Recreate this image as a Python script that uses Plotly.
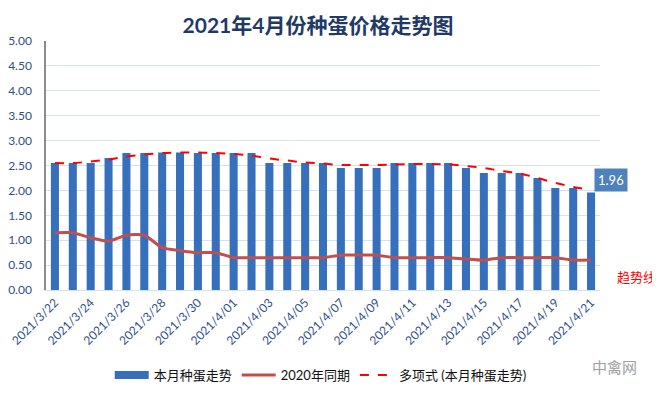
import plotly.graph_objects as go

dates = ["2021/3/22", "2021/3/23", "2021/3/24", "2021/3/25", "2021/3/26", "2021/3/27",
         "2021/3/28", "2021/3/29", "2021/3/30", "2021/3/31", "2021/4/01", "2021/4/02",
         "2021/4/03", "2021/4/04", "2021/4/05", "2021/4/06", "2021/4/07", "2021/4/08",
         "2021/4/09", "2021/4/10", "2021/4/11", "2021/4/12", "2021/4/13", "2021/4/14",
         "2021/4/15", "2021/4/16", "2021/4/17", "2021/4/18", "2021/4/19", "2021/4/20",
         "2021/4/21"]
tick_labels = dates[::2]

price_2021 = [2.55, 2.55, 2.55, 2.65, 2.75, 2.75, 2.76, 2.76, 2.75, 2.75, 2.75, 2.75,
              2.55, 2.55, 2.55, 2.55, 2.45, 2.45, 2.45, 2.55, 2.55, 2.55, 2.55, 2.45,
              2.35, 2.35, 2.35, 2.25, 2.05, 2.05, 1.96]
price_2020 = [1.15, 1.15, 1.05, 0.98, 1.10, 1.10, 0.85, 0.79, 0.75, 0.75, 0.65, 0.65,
              0.65, 0.65, 0.65, 0.65, 0.70, 0.70, 0.70, 0.65, 0.65, 0.65, 0.65, 0.62,
              0.60, 0.65, 0.65, 0.65, 0.65, 0.60, 0.60]
trend = [2.55, 2.55, 2.58, 2.62, 2.68, 2.72, 2.75, 2.76, 2.76, 2.75, 2.73, 2.70,
         2.64, 2.60, 2.56, 2.54, 2.51, 2.51, 2.51, 2.52, 2.53, 2.53, 2.52, 2.49,
         2.45, 2.39, 2.34, 2.25, 2.15, 2.07, 2.01]

font_family = "Lato, 'Noto Sans CJK SC', sans-serif"
tick_color = "#2F4F8A"
grid_color = "#D6E1EF"
bar_color = "#3670BD"

fig = go.Figure()
fig.add_trace(go.Bar(
    x=dates, y=price_2021, name="本月种蛋走势",
    marker=dict(color=bar_color, line=dict(width=0)),
    width=0.45, showlegend=False,
))
# legend-only entry giving the wide rectangular swatch for the bars
fig.add_trace(go.Scatter(
    x=[None], y=[None], name="本月种蛋走势", mode="lines",
    line=dict(color=bar_color, width=8),
))
fig.add_trace(go.Scatter(
    x=dates, y=price_2020, name="2020年同期", mode="lines",
    line=dict(color="#C0504D", width=3, shape="spline", smoothing=0.6),
))
fig.add_trace(go.Scatter(
    x=dates, y=trend, name="多项式 (本月种蛋走势)", mode="lines",
    line=dict(color="#FF0000", width=2, dash="dash", shape="spline"),
))

fig.update_layout(
    width=652, height=388,
    margin=dict(l=38, r=60, t=33, b=106, autoexpand=False),
    paper_bgcolor="white", plot_bgcolor="white",
    font=dict(family=font_family, size=11, color="#222222"),
    title=dict(text="<b>2021年4月份种蛋价格走势图</b>", x=0.4755, xanchor="center",
               y=0.9536, yanchor="middle",
               font=dict(family=font_family, size=21, color="#1F3A68")),
    showlegend=True,
    legend=dict(orientation="h", x=0.115, xanchor="left", yref="container",
                y=0.054, yanchor="middle", font=dict(size=13, color="#111111"),
                traceorder="normal", itemwidth=34),
    bargap=0.55,
)
fig.update_xaxes(
    type="category", tickmode="array", tickvals=tick_labels, ticktext=tick_labels,
    tickangle=-45, tickfont=dict(size=12, color=tick_color),
    showgrid=False, showline=True, linecolor=grid_color, linewidth=1,
    ticks="", range=[-0.5, 30.5], automargin=False,
)
fig.update_yaxes(
    range=[0, 5], dtick=0.5, tickformat=".2f",
    tickfont=dict(size=12, color=tick_color), ticklabelstandoff=10,
    showgrid=True, gridcolor=grid_color, gridwidth=1,
    showline=True, linecolor="#8C8C8C", linewidth=1.5, zeroline=False, ticks="",
    automargin=False,
)

fig.add_annotation(
    x=dates[-1], y=price_2021[-1], text="1.96", showarrow=False,
    xshift=20, yshift=12, bgcolor="#4F81BD", font=dict(color="white", size=13),
    borderpad=3,
)
fig.add_annotation(
    xref="paper", yref="paper", x=1.065, y=0.052, text="趋势线", showarrow=False,
    xanchor="center", yanchor="middle",
    font=dict(color="#FF0000", size=13),
)
fig.add_annotation(
    xref="paper", yref="paper", x=1.027, y=-0.309, text="中禽网", showarrow=False,
    xanchor="center", yanchor="middle",
    font=dict(color="#A0A0A0", size=15),
)

fig.write_html("out.html")
